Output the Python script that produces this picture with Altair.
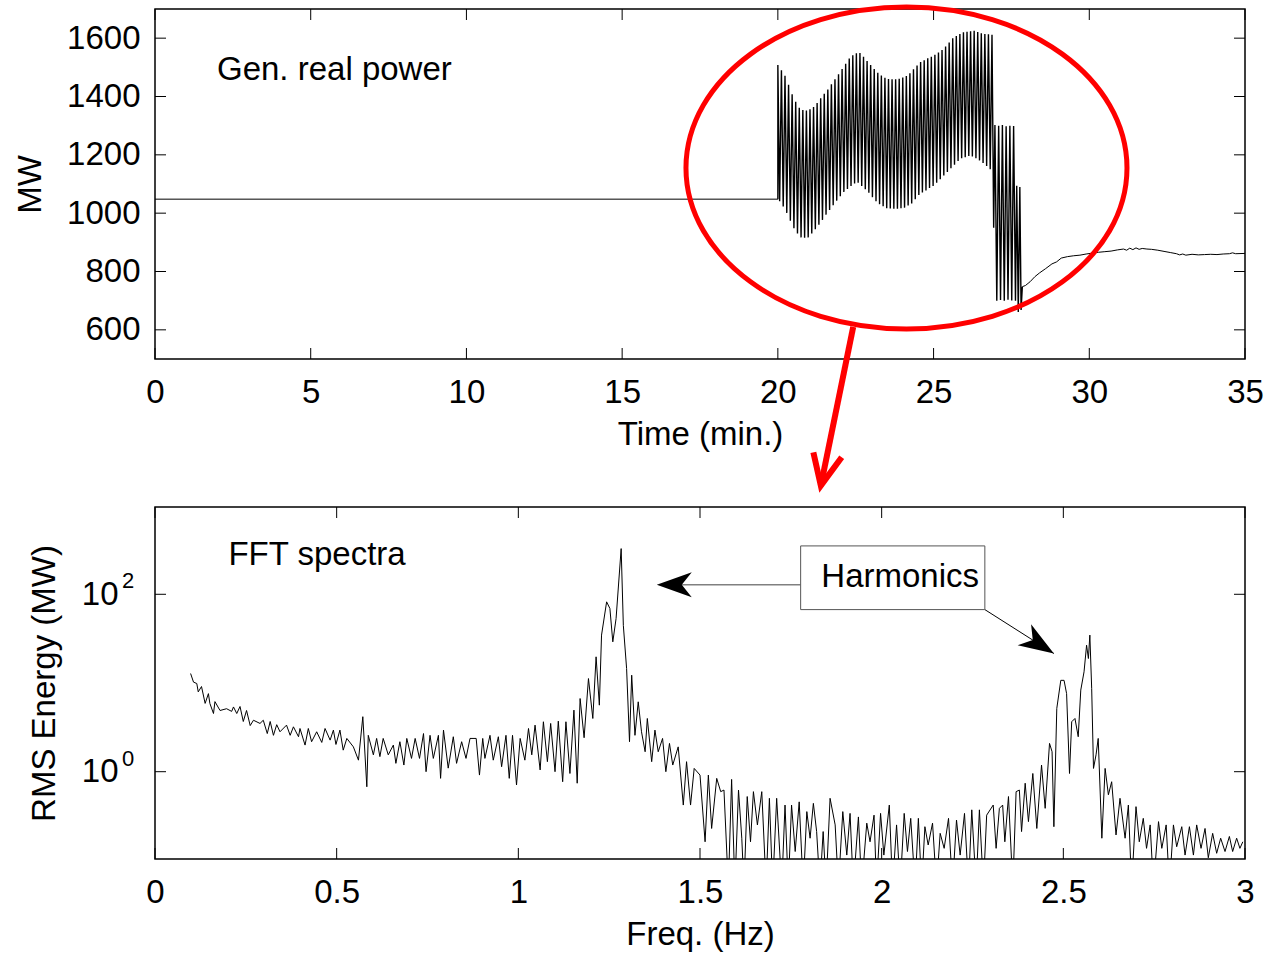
import altair as alt
import pandas as pd

FONT = "Liberation Sans"
FS = 33

# ---------------- top panel: generator real power ----------------
flat_t = [0.0, 20.0]
flat_mw = [1048, 1048]

osc_t0 = 20.0              # oscillation starts (min)
osc_half_period = 0.0573   # time between a peak and the next trough (min)
osc_peaks = [1508, 1490, 1471, 1440, 1408, 1382, 1361, 1354, 1352, 1356,
             1364, 1378, 1394, 1409, 1424, 1442, 1459, 1476, 1494, 1512,
             1530, 1541, 1548, 1549, 1536, 1522, 1508, 1494, 1481, 1472,
             1464, 1460, 1459, 1459, 1461, 1465, 1470, 1480, 1493, 1506,
             1518, 1524, 1531, 1536, 1543, 1551, 1559, 1571, 1585, 1600,
             1607, 1614, 1620, 1622, 1624, 1625, 1621, 1617, 1614, 1613, 1612]
osc_troughs = [1041, 1023, 1001, 974, 948, 930, 917, 916, 917, 930,
               945, 960, 977, 995, 1011, 1027, 1043, 1058, 1073, 1083,
               1093, 1102, 1104, 1093, 1082, 1070, 1055, 1041, 1031, 1024,
               1017, 1016, 1015, 1015, 1017, 1019, 1026, 1033, 1048, 1062,
               1071, 1078, 1086, 1093, 1104, 1116, 1129, 1141, 1154, 1166,
               1179, 1188, 1192, 1196, 1194, 1188, 1181, 1172, 1162, 1151]

tail_t = [26.93, 26.97, 27.03, 27.09, 27.15, 27.21, 27.27, 27.33, 27.39, 27.45,
          27.51, 27.57, 27.63, 27.67, 27.72, 27.77, 27.81]
tail_mw = [950, 1302, 700, 1300, 702, 1302, 700, 1298, 703, 1300,
           701, 1299, 700, 1094, 661, 1090, 668]

rec_t = [27.85, 27.95, 28.1, 28.25, 28.4, 28.6, 28.8, 28.95, 29.1, 29.3,
         29.5, 29.7, 29.9, 30.1, 30.3, 30.5, 30.7, 30.9, 31.1, 31.2,
         31.3, 31.4, 31.5, 31.6, 31.7, 31.85, 32.0, 32.2, 32.4, 32.6,
         32.8, 32.9, 33.0, 33.1, 33.3, 33.5, 33.7, 33.9, 34.1, 34.3,
         34.5, 34.6, 34.7, 35.0]
rec_mw = [748, 752, 765, 782, 795, 810, 826, 833, 846, 851,
          854, 856, 860, 863, 866, 868, 870, 874, 877, 873,
          880, 875, 881, 876, 879, 877, 876, 873, 869, 865,
          861, 857, 860, 856, 859, 857, 858, 859, 858, 860,
          861, 864, 861, 862]

time_ticks = [0, 5, 10, 15, 20, 25, 30, 35]
mw_ticks = [600, 800, 1000, 1200, 1400, 1600]

# annotations (data coordinates)
gen_label = {"t": 1.99, "mw": 1457, "text": "Gen. real power"}
ellipse_center = {"t": 24.13, "mw": 1155}
red_arrow_t = [22.42, 21.38, 21.14, 21.38, 22.05]
red_arrow_mw = [610, 66, 180, 66, 163]
red_arrow_part = ["shaft", "shaft", "head", "head", "head"]

# ---------------- bottom panel: FFT spectrum ----------------
# RMS energy, stored as log10(MW)
freq_a = [0.098, 0.106, 0.115, 0.119, 0.128, 0.138, 0.147, 0.151, 0.161, 0.165,
          0.179, 0.197, 0.211, 0.216, 0.225, 0.234, 0.243, 0.252, 0.262, 0.271,
          0.289, 0.298, 0.309, 0.317, 0.326, 0.335, 0.344, 0.362, 0.372, 0.381,
          0.395, 0.399, 0.413, 0.422, 0.431, 0.445, 0.459, 0.468, 0.482, 0.491,
          0.498, 0.509, 0.518, 0.528, 0.546, 0.560, 0.572, 0.583, 0.587, 0.601,
          0.610, 0.619, 0.628, 0.642, 0.656, 0.663, 0.674, 0.685, 0.693, 0.706,
          0.716, 0.728, 0.739, 0.746, 0.757, 0.766, 0.780, 0.786, 0.794, 0.807,
          0.821, 0.830, 0.844, 0.856, 0.867]
lg_a = [1.107, 1.01, 0.994, 0.90, 0.96, 0.77, 0.88, 0.77, 0.656, 0.79,
        0.69, 0.71, 0.68, 0.73, 0.656, 0.735, 0.566, 0.69, 0.52, 0.58,
        0.544, 0.58, 0.43, 0.566, 0.41, 0.53, 0.45, 0.525, 0.41, 0.506,
        0.394, 0.487, 0.30, 0.487, 0.338, 0.45, 0.33, 0.487, 0.356, 0.469,
        0.307, 0.469, 0.243, 0.375, 0.28, 0.13, 0.62, -0.17, 0.41, 0.19,
        0.375, 0.17, 0.375, 0.19, 0.30, 0.094, 0.338, 0.075, 0.375, 0.15,
        0.375, 0.15, 0.43, 0.0, 0.41, 0.15, 0.41, -0.075, 0.469, 0.04,
        0.394, 0.094, 0.338, 0.15, 0.375]
freq_b = [0.884, 0.893, 0.902, 0.908, 0.922, 0.931, 0.945, 0.954, 0.966, 0.975,
          0.984, 0.995, 1.005, 1.018, 1.028, 1.037, 1.046, 1.060, 1.069, 1.080,
          1.089, 1.101, 1.110, 1.122, 1.131, 1.142, 1.153, 1.162, 1.170, 1.181,
          1.193, 1.205, 1.214, 1.223, 1.229, 1.243, 1.252, 1.260, 1.269, 1.283,
          1.289, 1.298, 1.306, 1.312, 1.321, 1.330, 1.339, 1.349, 1.355, 1.367,
          1.376, 1.385, 1.397, 1.406, 1.416, 1.425, 1.440, 1.454, 1.463, 1.474,
          1.484, 1.500, 1.514, 1.523, 1.532, 1.546, 1.557]
lg_b = [0.375, -0.038, 0.375, 0.15, 0.41, 0.13, 0.394, 0.056, 0.41, -0.075,
        0.41, -0.15, 0.375, 0.13, 0.487, 0.19, 0.525, 0.02, 0.563, 0.113,
        0.544, 0.0, 0.57, -0.113, 0.563, -0.02, 0.694, -0.13, 0.825, 0.383,
        1.05, 0.60, 1.295, 0.75, 1.54, 1.915, 1.84, 1.464, 1.726, 2.515,
        1.65, 1.163, 0.338, 1.088, 0.41, 0.788, 0.45, 0.225, 0.60, 0.113,
        0.469, 0.225, 0.375, 0.0, 0.319, 0.075, 0.28, -0.376, 0.113, -0.376,
        0.037, -0.038, -0.79, -0.038, -0.64, -0.075, -0.225]
freq_c = [1.566, 1.578, 1.587, 1.596, 1.606, 1.615, 1.621, 1.630, 1.639, 1.647,
          1.658, 1.670, 1.682, 1.691, 1.700, 1.711, 1.725, 1.734, 1.743, 1.752,
          1.762, 1.773, 1.784, 1.794, 1.803, 1.812, 1.821, 1.830, 1.839, 1.847,
          1.858, 1.872, 1.881, 1.893, 1.904, 1.913, 1.922, 1.936, 1.945, 1.959,
          1.968, 1.979, 1.986, 1.997, 2.006, 2.021, 2.030, 2.041, 2.051, 2.062,
          2.071, 2.080, 2.092, 2.101, 2.110, 2.119, 2.128, 2.140, 2.151, 2.161,
          2.172, 2.184, 2.195, 2.206, 2.216, 2.228, 2.239, 2.248, 2.260, 2.269,
          2.280, 2.289]
lg_c = [-0.207, -1.3, -0.087, -1.3, -0.207, -0.75, -1.3, -0.28, -0.79, -0.225,
        -0.60, -0.225, -1.3, -0.30, -1.3, -0.30, -1.3, -0.376, -1.3, -0.376,
        -0.90, -0.34, -1.3, -0.45, -0.75, -0.357, -0.675, -1.3, -0.675, -1.3,
        -0.30, -0.60, -1.3, -0.45, -0.94, -0.47, -1.3, -0.51, -1.3, -0.58,
        -0.79, -0.49, -1.3, -0.47, -0.94, -0.376, -1.3, -0.60, -1.3, -0.47,
        -0.90, -0.526, -1.3, -0.526, -1.3, -0.62, -0.826, -0.58, -1.3, -0.695,
        -0.864, -0.526, -1.3, -0.545, -0.94, -0.47, -1.3, -0.43, -1.3, -0.43,
        -1.3, -0.49]
freq_d = [2.307, 2.315, 2.324, 2.333, 2.339, 2.349, 2.361, 2.370, 2.379, 2.385,
          2.395, 2.404, 2.416, 2.427, 2.440, 2.450, 2.462, 2.469, 2.474, 2.482,
          2.493, 2.502, 2.509, 2.517, 2.523, 2.532, 2.541, 2.548, 2.557, 2.564,
          2.569, 2.573, 2.578, 2.583, 2.590, 2.596, 2.606, 2.615, 2.624, 2.633,
          2.645, 2.656, 2.670, 2.679, 2.688, 2.700, 2.709, 2.720, 2.729, 2.739,
          2.748, 2.762, 2.771, 2.783, 2.792, 2.803, 2.812, 2.826, 2.835, 2.847,
          2.858, 2.867, 2.879, 2.890, 2.899, 2.911, 2.922, 2.933, 2.945, 2.957,
          2.966, 2.977, 2.986, 2.994]
lg_d = [-0.376, -0.864, -0.413, -0.376, -0.79, -0.28, -1.3, -0.225, -0.207, -0.675,
        -0.13, -0.563, -0.02, -0.64, 0.075, -0.413, 0.319, 0.225, -0.62, 0.713,
        1.03, 1.03, 0.88, -0.02, 0.563, 0.60, 0.394, 0.92, 1.126, 1.426,
        1.276, 1.54, 0.94, 0.037, 0.19, 0.375, -0.75, 0.037, -0.26, -0.113,
        -0.713, -0.30, -0.75, -0.376, -1.3, -0.394, -0.79, -0.526, -0.864, -0.60,
        -1.3, -0.563, -0.864, -0.60, -1.3, -0.60, -0.846, -0.62, -0.94, -0.62,
        -0.94, -0.60, -0.864, -0.64, -0.97, -0.695, -0.92, -0.75, -0.90, -0.73,
        -0.90, -0.75, -0.864, -0.79]

freq_ticks = [0, 0.5, 1, 1.5, 2, 2.5, 3]
rms_ticks = [1, 100]
rms_tick_exp = ["0", "2"]

fft_label = {"f": 0.202, "v": 216, "text": "FFT spectra"}
harm_box = {"f": 1.777, "f2": 2.284, "v": 67.2, "v2": 351}
harm_label = {"f": 2.051, "v": 122, "text": "Harmonics"}
arrow1_f = [1.777, 1.39]
arrow1_v = [128.5, 128.5]
arrow2_f = [2.284, 2.474]
arrow2_v = [67.2, 21.5]
head_f = [1.381, 2.474]
head_v = [128.5, 21.5]
head_angle = [180, 32.5]

# ---------------- shapes ----------------
ELLIPSE = ("M1.3696,0 C1.3696,0.5523 0.7564,1 0,1 C-0.7564,1 -1.3696,0.5523 -1.3696,0 "
           "C-1.3696,-0.5523 -0.7564,-1 0,-1 C0.7564,-1 1.3696,-0.5523 1.3696,0 Z")
ARROW = "M0,0 L-2,-0.714 L-1.43,0 L-2,0.714 Z"

# ---------------- build tables ----------------
flat_df = pd.DataFrame({"t": flat_t, "mw": flat_mw, "i": range(len(flat_t))})

osc_t = [flat_t[-1]]
osc_mw = [flat_mw[-1]]
n_osc = len(osc_peaks) + len(osc_troughs)
for i in range(n_osc):
    osc_t.append(round(osc_t0 + i * osc_half_period, 4))
    osc_mw.append(osc_peaks[i // 2] if i % 2 == 0 else osc_troughs[i // 2])
osc_t += tail_t + [rec_t[0]]
osc_mw += tail_mw + [rec_mw[0]]
osc_df = pd.DataFrame({"t": osc_t, "mw": osc_mw, "i": range(len(osc_t))})

rec_df = pd.DataFrame({"t": rec_t, "mw": rec_mw, "i": range(len(rec_t))})

freqs = freq_a + freq_b + freq_c + freq_d
lgs = lg_a + lg_b + lg_c + lg_d
spec_df = pd.DataFrame({"f": freqs, "v": [10 ** g for g in lgs], "i": range(len(freqs))})

# ---------------- scales / axes ----------------
sx_top = alt.Scale(domain=[0, 35], nice=False, zero=False)
sy_top = alt.Scale(domain=[500, 1700], nice=False, zero=False)
sx_bot = alt.Scale(domain=[0, 3], nice=False, zero=False)
sy_bot = alt.Scale(type="log", domain=[0.1037, 964], nice=False)

ax_tx = alt.Axis(values=time_ticks, format="d", title="Time (min.)",
                 labelPadding=17, titlePadding=9, labelFlush=False)
ax_ty = alt.Axis(values=mw_ticks, format="d", title="MW",
                 labelPadding=15, titlePadding=19)
ax_bx = alt.Axis(values=freq_ticks, format="~g", title="Freq. (Hz)",
                 labelPadding=17, titlePadding=9, labelFlush=False)
ax_by = alt.Axis(values=rms_ticks, labelExpr="'10'", title="RMS Energy (MW)",
                 labelPadding=37, titlePadding=20)

W, H1, H2, TL = 1090, 350, 352, 11


def xt():
    return alt.X("t:Q", scale=sx_top, axis=ax_tx, title="Time (min.)")


def yt():
    return alt.Y("mw:Q", scale=sy_top, axis=ax_ty, title="MW")


def xb():
    return alt.X("f:Q", scale=sx_bot, axis=ax_bx, title="Freq. (Hz)")


def yb():
    return alt.Y("v:Q", scale=sy_bot, axis=ax_by, title="RMS Energy (MW)")


# ---------------- top chart ----------------
flat_line = alt.Chart(flat_df).mark_line(color="black", strokeWidth=1).encode(
    x=xt(), y=yt(), order="i:Q")
osc_line = alt.Chart(osc_df).mark_line(color="black", strokeWidth=1.4).encode(
    x=xt(), y=yt(), order="i:Q")
rec_line = alt.Chart(rec_df).mark_line(color="black", strokeWidth=1).encode(
    x=xt(), y=yt(), order="i:Q")
xt_df = pd.DataFrame({"t": time_ticks})
yt_df = pd.DataFrame({"mw": mw_ticks})
top_ticks = [
    alt.Chart(xt_df).mark_rule(color="black").encode(x=xt(), y=alt.value(H1), y2=alt.value(H1 - TL)),
    alt.Chart(xt_df).mark_rule(color="black").encode(x=xt(), y=alt.value(0), y2=alt.value(TL)),
    alt.Chart(yt_df).mark_rule(color="black").encode(y=yt(), x=alt.value(0), x2=alt.value(TL)),
    alt.Chart(yt_df).mark_rule(color="black").encode(y=yt(), x=alt.value(W), x2=alt.value(W - TL)),
]
gen_text = alt.Chart(pd.DataFrame([gen_label])).mark_text(
    align="left", baseline="alphabetic", fontSize=FS, font=FONT, color="black"
).encode(x=xt(), y=yt(), text="text:N")
ellipse = alt.Chart(pd.DataFrame([ellipse_center])).mark_point(
    shape=ELLIPSE, size=(2 * 161) ** 2, filled=False, color="#ff0000",
    stroke="#ff0000", strokeWidth=5, strokeJoin="round", opacity=1
).encode(x=xt(), y=yt())
red_df = pd.DataFrame({"t": red_arrow_t, "mw": red_arrow_mw, "part": red_arrow_part,
                       "k": range(len(red_arrow_t))})
red_arrow = alt.Chart(red_df).mark_line(
    color="#ff0000", strokeWidth=6, strokeCap="butt", strokeJoin="miter", clip=False
).encode(x=xt(), y=yt(), detail="part:N", order="k:Q")

top = alt.layer(flat_line, osc_line, rec_line, *top_ticks, gen_text, ellipse,
                red_arrow).properties(width=W, height=H1)

# ---------------- bottom chart ----------------
spec_line = alt.Chart(spec_df).mark_line(color="black", strokeWidth=1, clip=True).encode(
    x=xb(), y=yb(), order="i:Q")
fx_df = pd.DataFrame({"f": freq_ticks})
fy_df = pd.DataFrame({"v": rms_ticks})
bot_ticks = [
    alt.Chart(fx_df).mark_rule(color="black").encode(x=xb(), y=alt.value(H2), y2=alt.value(H2 - TL)),
    alt.Chart(fx_df).mark_rule(color="black").encode(x=xb(), y=alt.value(0), y2=alt.value(TL)),
    alt.Chart(fy_df).mark_rule(color="black").encode(y=yb(), x=alt.value(0), x2=alt.value(TL)),
    alt.Chart(fy_df).mark_rule(color="black").encode(y=yb(), x=alt.value(W), x2=alt.value(W - TL)),
]
exp_df = pd.DataFrame({"v": rms_ticks, "e": rms_tick_exp})
exp_text = alt.Chart(exp_df).mark_text(
    align="left", baseline="alphabetic", fontSize=22, font=FONT, color="black", dy=-6
).encode(y=yb(), x=alt.value(-33), text="e:N")
fft_text = alt.Chart(pd.DataFrame([fft_label])).mark_text(
    align="left", baseline="alphabetic", fontSize=FS, font=FONT, color="black"
).encode(x=xb(), y=yb(), text="text:N")
box = alt.Chart(pd.DataFrame([harm_box])).mark_rect(
    fill="white", stroke="#555555", strokeWidth=1
).encode(x=xb(), x2="f2:Q", y=yb(), y2="v2:Q")
harm_text = alt.Chart(pd.DataFrame([harm_label])).mark_text(
    align="center", baseline="alphabetic", fontSize=FS, font=FONT, color="black"
).encode(x=xb(), y=yb(), text="text:N")
arrow1 = alt.Chart(pd.DataFrame({"f": arrow1_f, "v": arrow1_v, "k": [0, 1]})).mark_line(
    color="#808080", strokeWidth=1.5
).encode(x=xb(), y=yb(), order="k:Q")
arrow2 = alt.Chart(pd.DataFrame({"f": arrow2_f, "v": arrow2_v, "k": [0, 1]})).mark_line(
    color="black", strokeWidth=1
).encode(x=xb(), y=yb(), order="k:Q")
heads = alt.Chart(pd.DataFrame({"f": head_f, "v": head_v, "ang": head_angle})).mark_point(
    shape=ARROW, size=35 ** 2, filled=True, color="black", opacity=1, strokeWidth=0
).encode(x=xb(), y=yb(), angle=alt.Angle("ang:Q", scale=None))

bottom = alt.layer(spec_line, *bot_ticks, exp_text, fft_text, arrow1, arrow2, box,
                   harm_text, heads).properties(width=W, height=H2)

chart = alt.vconcat(
    top, bottom, spacing=148, bounds="flush",
    padding={"left": 13, "top": 3, "right": 0, "bottom": 2},
).configure(
    font=FONT, background="white"
).configure_view(
    stroke="black", strokeWidth=1.5
).configure_axis(
    grid=False, ticks=False, domain=False,
    labelFont=FONT, titleFont=FONT, labelFontSize=FS, titleFontSize=FS,
    labelColor="black", titleColor="black", titleFontWeight="normal",
    labelOverlap=False, labelBound=False,
)

chart.save("out.html", embed_options={"renderer": "svg", "actions": False})
